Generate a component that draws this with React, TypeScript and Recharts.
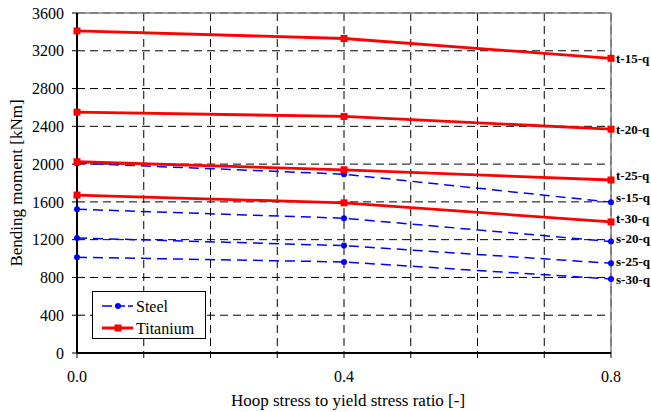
import { LineChart, Line, XAxis, YAxis, CartesianGrid, ReferenceLine, Legend } from 'recharts'

const stressRatio = [0, 0.4, 0.8]
const xTicks = [0, 0.1, 0.2, 0.3, 0.4, 0.5, 0.6, 0.7, 0.8]
const xLabeled = [0, 0.4, 0.8]
const yTicks = [0, 400, 800, 1200, 1600, 2000, 2400, 2800, 3200, 3600]

// titanium pipes (solid red)
const t15 = [3410, 3330, 3120]
const t20 = [2550, 2505, 2370]
const t25 = [2025, 1940, 1832]
const t30 = [1672, 1590, 1388]
// steel pipes (dashed blue)
const s15 = [2010, 1893, 1597]
const s20 = [1522, 1427, 1180]
const s25 = [1218, 1137, 950]
const s30 = [1014, 964, 784]

const steelSeries = [
  { name: 's-15-q', values: s15 },
  { name: 's-20-q', values: s20 },
  { name: 's-25-q', values: s25 },
  { name: 's-30-q', values: s30 },
]
const titaniumSeries = [
  { name: 't-15-q', values: t15 },
  { name: 't-20-q', values: t20 },
  { name: 't-25-q', values: t25 },
  { name: 't-30-q', values: t30 },
]

// nudges so the end labels don't collide
const labelShift: Record<string, number> = {
  't-25-q': -5, 's-15-q': -5, 't-30-q': -3, 's-20-q': -3, 's-25-q': -2,
}

const rows = stressRatio.map((x, i) => {
  const r: Record<string, number> = { x }
  ;[...steelSeries, ...titaniumSeries].forEach(s => { r[s.name] = s.values[i] })
  return r
})

const FONT = 'Liberation Serif'
const RED = '#FF0000'
const BLUE = '#0000FF'
const txt = { fontFamily: FONT }

const endLabel = (name: string) => (props: any) => {
  if (props.index !== stressRatio.length - 1) return null
  return (
    <text x={props.x + 5} y={props.y + (labelShift[name] || 0)} dy="0.35em" style={txt} fontSize={13} fontWeight="bold" fill="#000">
      {name}
    </text>
  )
}

const SquareDot = (props: any) => (
  <rect key={props.key} x={props.cx - 3.5} y={props.cy - 3.5} width={7} height={7} fill={RED} />
)

const LegendBox = () => (
  <div style={{ width: 114, height: 48, border: '1px solid #000', background: '#fff', boxSizing: 'border-box' }}>
    <svg width={112} height={46} style={{ display: 'block' }}>
      <line x1={9} y1={14} x2={40} y2={14} stroke={BLUE} strokeWidth={1.5} strokeDasharray="10 3" />
      <circle cx={25} cy={14} r={3} fill={BLUE} />
      <text x={43} y={14} dy="0.35em" style={txt} fontSize={16} fill="#000">Steel</text>
      <line x1={9} y1={36} x2={40} y2={36} stroke={RED} strokeWidth={3} />
      <rect x={21.5} y={32.5} width={7} height={7} fill={RED} />
      <text x={43} y={36} dy="0.35em" style={txt} fontSize={16} fill="#000">Titanium</text>
    </svg>
  </div>
)

export default function App() {
  return (
    <div style={{ position: 'absolute', left: 0, top: 0, width: 651, height: 412, background: '#fff' }}>
      <LineChart width={651} height={412} data={rows} margin={{ top: 13, right: 40, bottom: 29, left: 27 }}>
        <CartesianGrid stroke="#000" strokeDasharray="8 5" strokeWidth={1} />
        <XAxis
          type="number"
          dataKey="x"
          domain={[0, 0.8]}
          ticks={xTicks}
          interval={0}
          height={30}
          tickSize={5}
          tickMargin={13}
          tickFormatter={(v: number) => (xLabeled.some(t => Math.abs(t - v) < 1e-9) ? v.toFixed(1) : '')}
          axisLine={{ stroke: '#000', strokeWidth: 2 }}
          tickLine={{ stroke: '#000' }}
          tick={{ fill: '#000', fontSize: 16, fontFamily: FONT, style: txt }}
          label={{
            content: () => (
              <text x={348} y={406} textAnchor="middle" style={txt} fontSize={17} fill="#000">
                Hoop stress to yield stress ratio [-]
              </text>
            ),
          }}
        />
        <YAxis
          domain={[0, 3600]}
          ticks={yTicks}
          interval={0}
          width={50}
          tickSize={5}
          tickMargin={8}
          axisLine={{ stroke: '#000', strokeWidth: 2 }}
          tickLine={{ stroke: '#000' }}
          tick={{ fill: '#000', fontSize: 16, fontFamily: FONT, style: txt }}
          label={{
            content: () => (
              <text x={16} y={183} transform="rotate(-90 16 183)" textAnchor="middle" dy="0.35em" style={txt} fontSize={17} fill="#000">
                Bending moment  [kNm]
              </text>
            ),
          }}
        />
        <ReferenceLine y={3600} stroke="#808080" strokeWidth={1.5} />
        <ReferenceLine x={0.8} stroke="#808080" strokeWidth={1.5} />
        <Legend
          layout="horizontal"
          verticalAlign="middle"
          align="center"
          content={() => <LegendBox />}
          wrapperStyle={{ left: 92, top: 291, width: 114, height: 48 }}
        />
        {steelSeries.map(s => (
          <Line
            key={s.name}
            type="linear"
            dataKey={s.name}
            stroke={BLUE}
            strokeWidth={1.5}
            strokeDasharray="10 6"
            dot={{ r: 3, fill: BLUE, stroke: BLUE, strokeWidth: 0 }}
            activeDot={false}
            label={endLabel(s.name)}
            isAnimationActive={false}
            legendType="none"
          />
        ))}
        {titaniumSeries.map(s => (
          <Line
            key={s.name}
            type="linear"
            dataKey={s.name}
            stroke={RED}
            strokeWidth={2.8}
            dot={SquareDot}
            activeDot={false}
            label={endLabel(s.name)}
            isAnimationActive={false}
            legendType="none"
          />
        ))}
      </LineChart>
    </div>
  )
}
